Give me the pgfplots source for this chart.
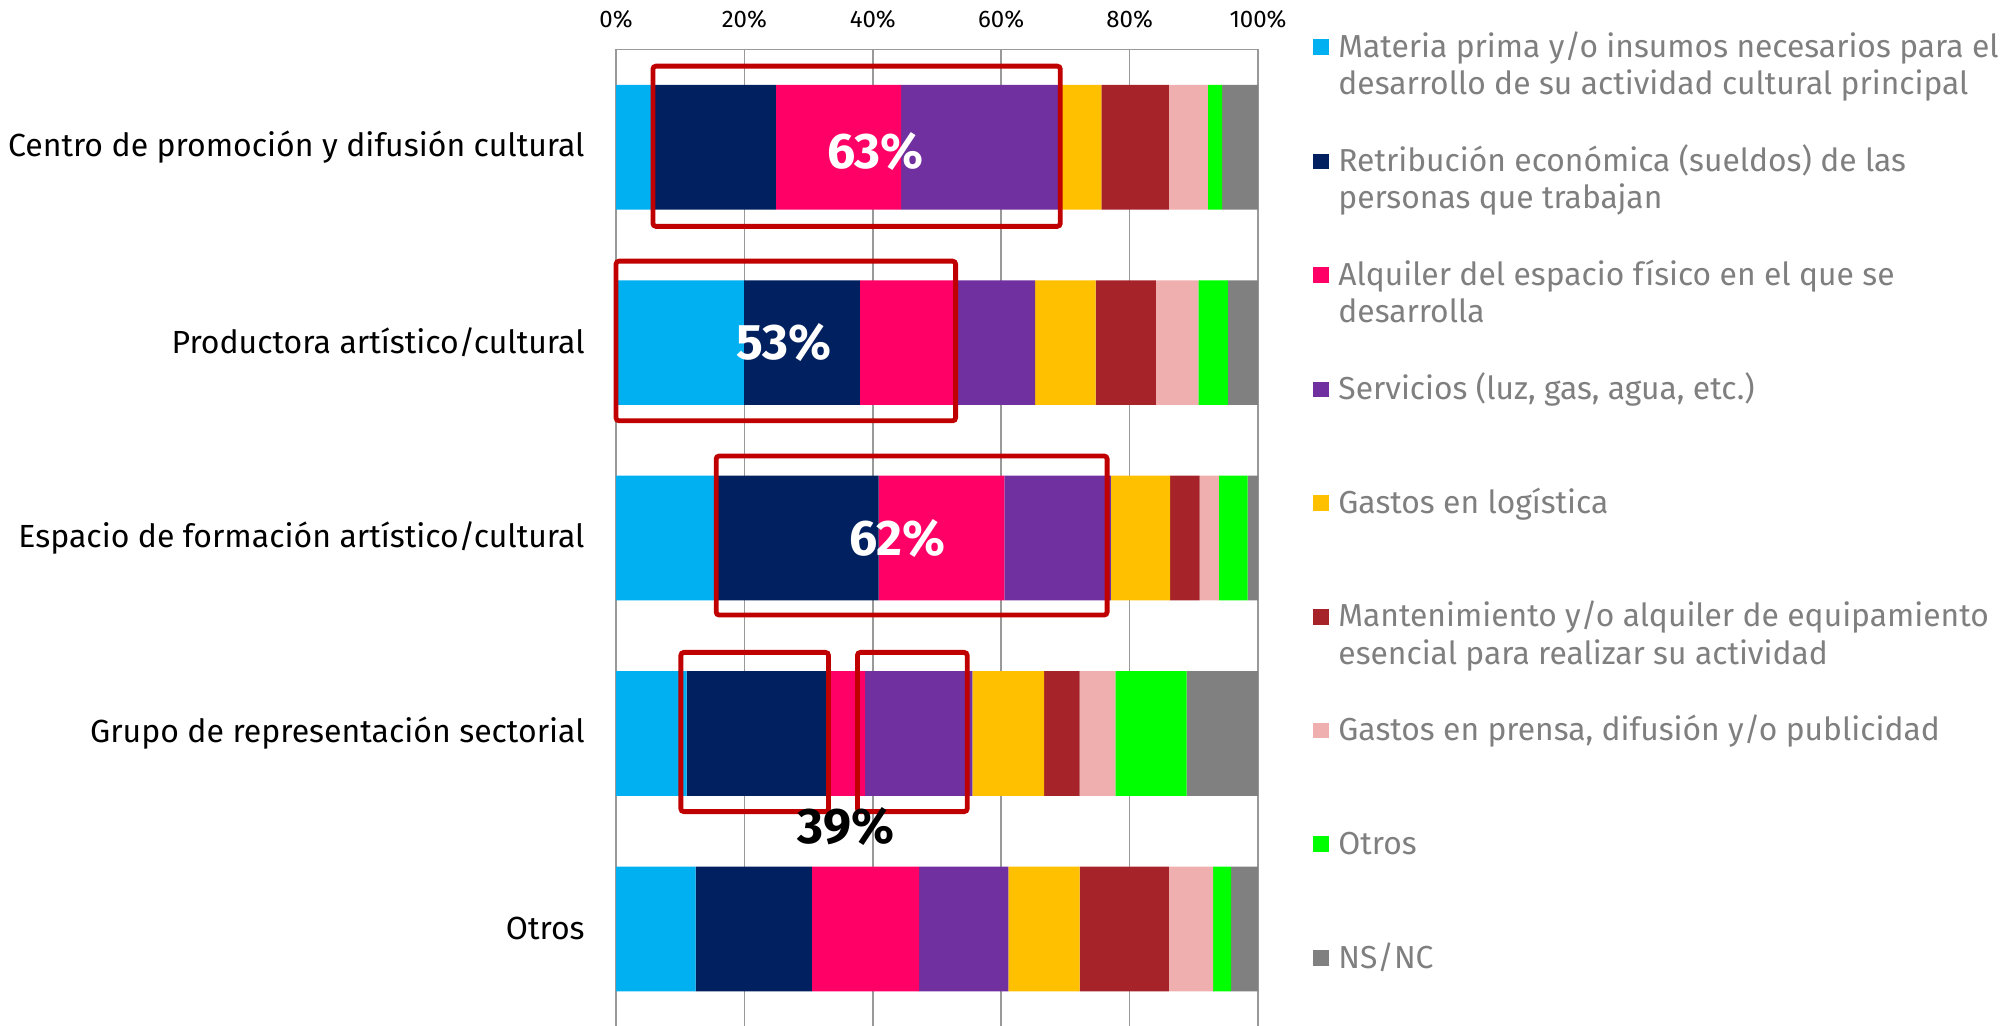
\documentclass[border=0pt]{standalone}
\usepackage{fontspec}
\setmainfont{Fira Sans}
\usepackage{pgfplots}
\pgfplotsset{compat=1.18}
\definecolor{c1}{HTML}{00B0F0}
\definecolor{c2}{HTML}{002060}
\definecolor{c3}{HTML}{FF0066}
\definecolor{c4}{HTML}{7030A0}
\definecolor{c5}{HTML}{FFC000}
\definecolor{c6}{HTML}{A6232A}
\definecolor{c7}{HTML}{EFAFAF}
\definecolor{c8}{HTML}{00FF00}
\definecolor{c9}{HTML}{808080}
\definecolor{gridgray}{HTML}{999999}
\definecolor{legendgray}{HTML}{7F7F7F}
\definecolor{boxred}{HTML}{C00000}
\newcommand{\LE}[2]{\parbox[t]{360pt}{\strut #1\\\strut #2}}
\begin{document}
\begin{tikzpicture}
\path[use as bounding box] (0,0) rectangle (1008pt,512.5pt);
\begin{axis}[
  at={(308pt,-0.8pt)}, anchor=south west,
  scale only axis, width=321pt, height=488.55pt,
  xbar stacked, bar width=0.638,
  legend image code/.code={\fill[#1] (0pt,1.2pt) rectangle (7.75pt,8.95pt);},
  xmin=0, xmax=100, ymin=-0.5, ymax=4.5, y dir=reverse,
  xtick={0,20,...,100},
  xticklabel={\pgfmathprintnumber[assume math mode=true]{\tick}\%},
  xticklabel pos=upper,
  ytick={0,1,2,3,4},
  yticklabels={Centro de promoción y difusión cultural, Productora artístico/cultural, Espacio de formación artístico/cultural, Grupo de representación sectorial, Otros},
  major tick length=0pt,
  xmajorgrids, grid style={gridgray, line width=0.8pt},
  axis line style={gridgray, line width=0.8pt},
  xticklabel style={font=\fontsize{12}{13}\selectfont, anchor=base, inner sep=0pt, yshift=11.1pt},
  yticklabel style={font=\fontsize{16}{19}\selectfont, anchor=east, inner sep=0pt, xshift=-15.5pt},
  legend style={draw=none, fill=none, at={(1.0857,1.0195)}, anchor=north west,
    inner sep=0pt, row sep=19.45pt, column sep=4.75pt,
    cells={anchor=base west}, nodes={inner sep=0pt, text depth={}},
    font=\fontsize{15.9}{18.7}\selectfont, text=legendgray},
]
\addplot[fill=c1, draw=none] coordinates {(5.8,0) (19.9,1) (15.5,2) (11.0,3) (12.4,4)};
\addlegendentry{\LE{Materia prima y/o insumos necesarios para el}{desarrollo de su actividad cultural principal}}
\addplot[fill=c2, draw=none] coordinates {(19.1,0) (18.1,1) (25.4,2) (21.8,3) (18.1,4)};
\addlegendentry{\LE{Retribución económica (sueldos) de las}{personas que trabajan}}
\addplot[fill=c3, draw=none] coordinates {(19.5,0) (15.1,1) (19.6,2) (6.0,3) (16.7,4)};
\addlegendentry{\LE{Alquiler del espacio físico en el que se}{desarrolla}}
\addplot[fill=c4, draw=none] coordinates {(24.9,0) (12.2,1) (16.6,2) (16.7,3) (13.9,4)};
\addlegendentry{\LE{Servicios (luz, gas, agua, etc.)}{}}
\addplot[fill=c5, draw=none] coordinates {(6.3,0) (9.4,1) (9.2,2) (11.2,3) (11.1,4)};
\addlegendentry{\LE{Gastos en logística}{}}
\addplot[fill=c6, draw=none] coordinates {(10.5,0) (9.4,1) (4.6,2) (5.5,3) (13.9,4)};
\addlegendentry{\LE{Mantenimiento y/o alquiler de equipamiento}{esencial para realizar su actividad}}
\addplot[fill=c7, draw=none] coordinates {(6.1,0) (6.6,1) (3.0,2) (5.6,3) (6.9,4)};
\addlegendentry{\LE{Gastos en prensa, difusión y/o publicidad}{}}
\addplot[fill=c8, draw=none] coordinates {(2.2,0) (4.6,1) (4.5,2) (11.1,3) (2.8,4)};
\addlegendentry{\LE{Otros}{}}
\addplot[fill=c9, draw=none] coordinates {(5.6,0) (4.7,1) (1.6,2) (11.1,3) (4.2,4)};
\addlegendentry{\LE{NS/NC}{}}
\coordinate (a1) at (axis cs:5.75,-0.415); \coordinate (b1) at (axis cs:69.2,0.405);
\coordinate (a2) at (axis cs:0,0.583);     \coordinate (b2) at (axis cs:52.9,1.40);
\coordinate (a3) at (axis cs:15.6,1.58);   \coordinate (b3) at (axis cs:76.5,2.394);
\coordinate (a4) at (axis cs:10.1,2.585);  \coordinate (b4) at (axis cs:33.1,3.40);
\coordinate (a5) at (axis cs:37.6,2.585);  \coordinate (b5) at (axis cs:54.7,3.40);
\coordinate (l1) at (axis cs:40.4,0.02);
\coordinate (l2) at (axis cs:26.2,1.0);
\coordinate (l3) at (axis cs:43.8,2.0);
\coordinate (l4) at (axis cs:35.8,3.477);
\end{axis}
\foreach \i in {1,...,5}{\draw[boxred, line width=2.4pt, rounded corners=1.5pt] (a\i) rectangle (b\i);}
\node[text=white, font=\bfseries\fontsize{25}{25}\selectfont] at (l1) {63\%};
\node[text=white, font=\bfseries\fontsize{25}{25}\selectfont] at (l2) {53\%};
\node[text=white, font=\bfseries\fontsize{25}{25}\selectfont] at (l3) {62\%};
\node[text=black, font=\bfseries\fontsize{25}{25}\selectfont] at (l4) {39\%};
\end{tikzpicture}
\end{document}
